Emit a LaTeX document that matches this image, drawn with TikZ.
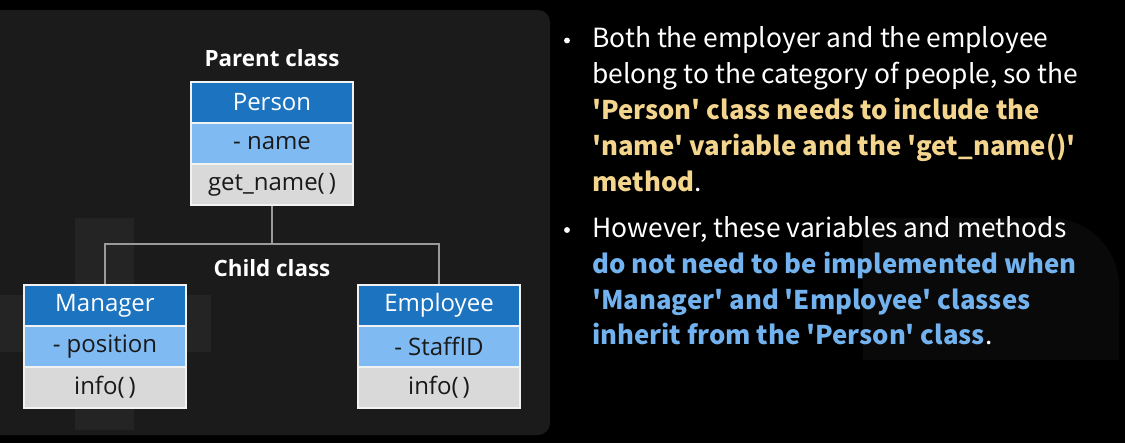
\documentclass[tikz,border=0pt]{standalone}
\usepackage{fontspec}
\setmainfont{Open Sans}
\newfontfamily\notesfont{Noto Sans CJK KR}
\usetikzlibrary{positioning}

\definecolor{panelbg}{HTML}{1B1B1B}
\definecolor{panelmark}{HTML}{242424}
\definecolor{sidemark}{HTML}{090909}
\definecolor{hdrblue}{HTML}{1C73BF}
\definecolor{attrblue}{HTML}{80BAF2}
\definecolor{methgray}{HTML}{D9D9D9}
\definecolor{cellline}{HTML}{F2F2F2}
\definecolor{linkgray}{HTML}{9A9A9A}
\definecolor{notegold}{HTML}{F4D58D}
\definecolor{noteblue}{HTML}{72B2EE}

% one picture unit is 0.75pt
\tikzset{
  cell/.style={draw=cellline, line width=1.2pt, minimum width=121.5pt,
    minimum height=30.75pt, inner sep=0pt, font=\fontsize{18}{21}\selectfont},
  hdrcell/.style={cell, fill=hdrblue, text=white},
  attrcell/.style={cell, fill=attrblue, text=black!90},
  methcell/.style={cell, fill=methgray, text=black!90},
  caption/.style={text=white, inner sep=0pt, font=\fontsize{16.8}{20}\bfseries\selectfont},
  link/.style={draw=linkgray, line width=1pt},
  noteline/.style={anchor=base west, inner sep=0pt, text=white,
    font=\notesfont\fontsize{19.8}{24}\selectfont},
  notebold/.style={noteline, font=\notesfont\bfseries\fontsize{19.3}{24}\selectfont},
  dot/.style={circle, fill=white, inner sep=0pt, minimum size=4.4pt},
}

\begin{document}
\begin{tikzpicture}[x=0.75pt, y=-0.75pt]
  % page
  \fill[black] (0,0) rectangle (1125,443);
  \useasboundingbox (0,0) rectangle (1125,443);

  % faint backdrop shape on the right
  \fill[sidemark] (863,360) -- (863,218) -- (1050,218)
    arc[start angle=90, end angle=0, radius=52pt] -- (1119,360) -- cycle;

  % diagram panel
  \fill[panelbg, rounded corners=9pt] (-20,10) rectangle (550,435);
  \fill[panelmark] (75,218) rectangle (134,430);
  \fill[panelmark] (0,295) rectangle (211,352);

  % Person class
  \node[caption] (parentcap) at (272,58) {Parent class};
  \node[hdrcell]  (person-h) at (272,102.5) {Person};
  \node[attrcell] (person-a) at (272,143.5) {- name};
  \node[methcell] (person-m) at (272,184.5) {get\_name(\,)};

  % child classes
  \node[caption] (childcap) at (272,268) {Child class};

  \node[hdrcell]  (manager-h) at (105,305.5) {Manager};
  \node[attrcell] (manager-a) at (105,346.5) {- position};
  \node[methcell] (manager-m) at (105,387.5) {info(\,)};

  \node[hdrcell]  (employee-h) at (439,305.5) {Employee};
  \node[attrcell] (employee-a) at (439,346.5) {- StaffID};
  \node[methcell] (employee-m) at (439,387.5) {info(\,)};

  % inheritance links
  \coordinate (bus) at (272,244);
  \draw[link] (person-m.south) -- (bus);
  \draw[link] (manager-h.north) -- (manager-h.north |- bus)
    -- (employee-h.north |- bus) -- (employee-h.north);

  % notes
  \node[dot] (dot1) at (567,40.5) {};
  \node[noteline] (n1) at (592,47.5) {Both the employer and the employee};
  \node[noteline] (n2) at (592,83.5) {belong to the category of people, so the};
  \node[notebold, text=notegold] (n3) at (592,119.5) {'Person' class needs to include the};
  \node[notebold, text=notegold] (n4) at (592,155.5) {'name' variable and the 'get\_name()'};
  \node[noteline] (n5) at (592,191.5) {\textcolor{notegold}{\fontsize{19.3}{24}\bfseries method}.};

  \node[dot] (dot2) at (567,230) {};
  \node[noteline] (m1) at (592,237.5) {However, these variables and methods};
  \node[notebold, text=noteblue] (m2) at (592,273.5) {do not need to be implemented when};
  \node[notebold, text=noteblue] (m3) at (592,309) {'Manager' and 'Employee' classes};
  \node[noteline] (m4) at (592,344) {\textcolor{noteblue}{\fontsize{19.3}{24}\bfseries inherit from the 'Person' class}.};
\end{tikzpicture}
\end{document}
